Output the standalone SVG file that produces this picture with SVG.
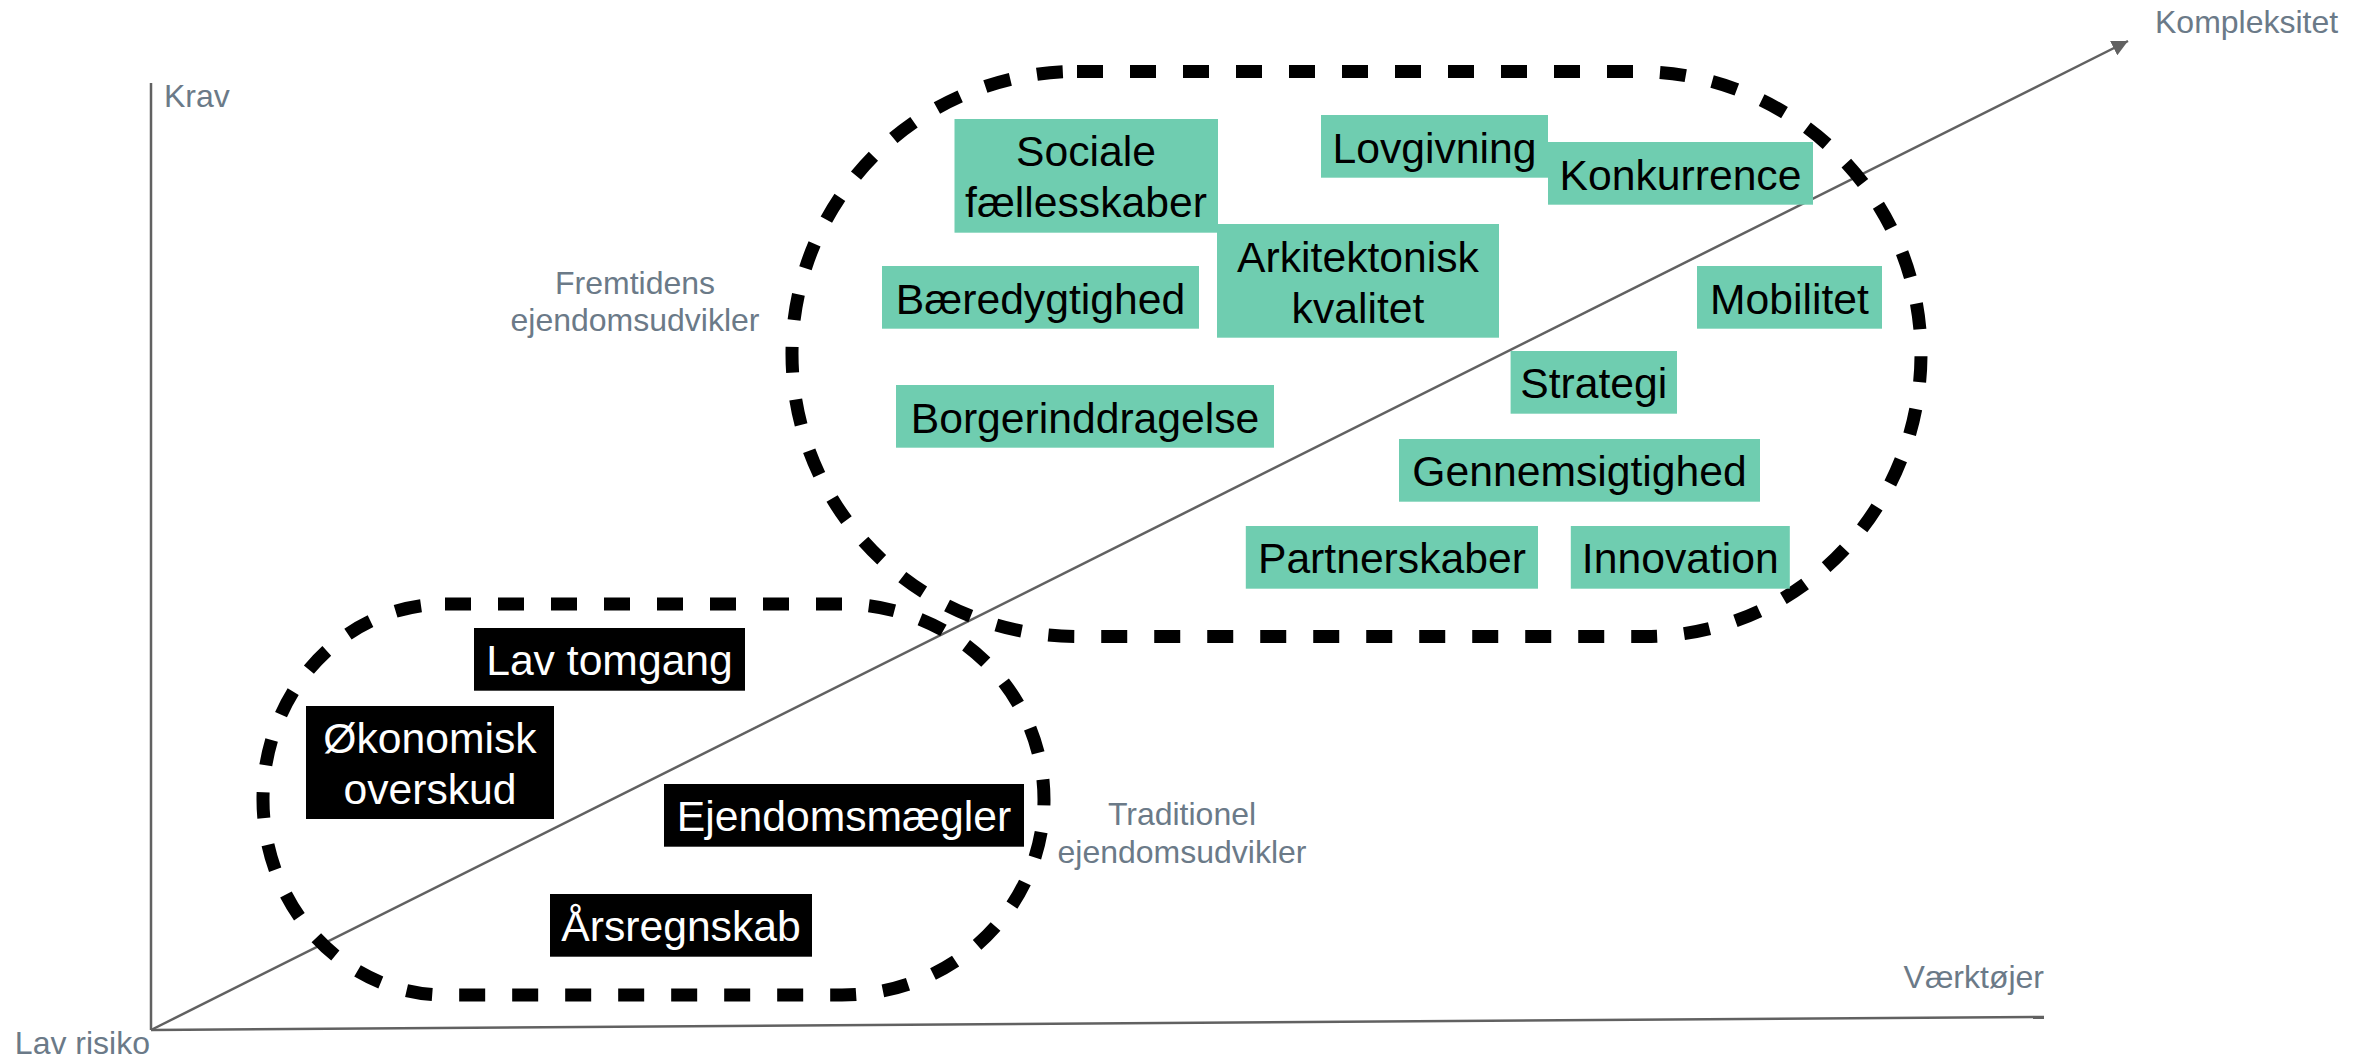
<svg xmlns="http://www.w3.org/2000/svg" width="2367" height="1061" viewBox="0 0 2367 1061">
<defs>
<style>
.ax{stroke:#616161;stroke-width:2.5;fill:none}
.lbl{font-family:"Liberation Sans",Arial,sans-serif;font-size:32px;fill:#6b7a88}
.g rect{fill:#6fcdb0}
.g text{font-family:"Liberation Sans",Arial,sans-serif;font-size:42.67px;fill:#000;text-anchor:middle}
.b rect{fill:#000}
.b text{font-family:"Liberation Sans",Arial,sans-serif;font-size:42.67px;fill:#fff;text-anchor:middle}
.dash{fill:none;stroke:#000;stroke-width:13;stroke-dasharray:26 27}
</style>
<marker id="arr" markerUnits="userSpaceOnUse" viewBox="0 0 16 16" refX="16" refY="8" markerWidth="16" markerHeight="16" orient="auto">
<path d="M0,0 L16,8 L0,16 Z" fill="#616161"/>
</marker>
</defs>
<rect width="2367" height="1061" fill="#fff"/>
<g id="connectors">
<line class="ax" x1="151" y1="83" x2="151" y2="1030"/>
<line class="ax" x1="151" y1="1030" x2="2044" y2="1017"/>
<line class="ax" x1="151" y1="1030" x2="2128" y2="41" marker-end="url(#arr)"/>
</g>
<g id="labels">
<text class="lbl" x="164" y="107">Krav</text>
<text class="lbl" x="2155" y="33">Kompleksitet</text>
<text class="lbl" x="2044" y="988" text-anchor="end">Værktøjer</text>
<text class="lbl" x="150" y="1054" text-anchor="end">Lav risiko</text>
<text class="lbl" x="635" y="294" text-anchor="middle">Fremtidens</text>
<text class="lbl" x="635" y="331" text-anchor="middle">ejendomsudvikler</text>
<text class="lbl" x="1182" y="825" text-anchor="middle">Traditionel</text>
<text class="lbl" x="1182" y="863" text-anchor="middle">ejendomsudvikler</text>
</g>
<g id="fremtidens-group">
<path class="dash" d="M1077,71.5 L1637,71.5 A284,282.5 0 0 1 1921,354 A276,282.5 0 0 1 1645,636.5 L1077,636.5 A285,282.5 0 0 1 792,354 A285,282.5 0 0 1 1077,71.5 Z"/>
</g>
<g id="traditionel-group">
<path class="dash" d="M445,604 L842,604 A202,195.5 0 0 1 1044,799.5 A202,195.5 0 0 1 842,995 L445,995 A182,195.5 0 0 1 263,799.5 A182,195.5 0 0 1 445,604 Z"/>
</g>
<g id="sociale" class="g"><rect x="954.5" y="119" width="263.5" height="113.7"/><text x="1086" y="165.7">Sociale</text><text x="1086" y="217.3">fællesskaber</text></g>
<g id="lovgivning" class="g"><rect x="1321" y="115" width="227" height="62.7"/><text x="1434.5" y="162.7">Lovgivning</text></g>
<g id="konkurrence" class="g"><rect x="1548" y="142" width="265" height="62.7"/><text x="1680.5" y="189.5">Konkurrence</text></g>
<g id="arkitektonisk" class="g"><rect x="1217" y="224" width="282" height="113.7"/><text x="1358" y="271.7">Arkitektonisk</text><text x="1358" y="322.7">kvalitet</text></g>
<g id="baeredygtighed" class="g"><rect x="882" y="266" width="317" height="62.7"/><text x="1040.5" y="313.5">Bæredygtighed</text></g>
<g id="mobilitet" class="g"><rect x="1697" y="266" width="185" height="62.7"/><text x="1789.5" y="313.5">Mobilitet</text></g>
<g id="borgerinddragelse" class="g"><rect x="896" y="385" width="378" height="62.7"/><text x="1085" y="432.5">Borgerinddragelse</text></g>
<g id="strategi" class="g"><rect x="1510.6" y="351" width="166.4" height="62.7"/><text x="1593.8" y="398">Strategi</text></g>
<g id="gennemsigtighed" class="g"><rect x="1399" y="439" width="361" height="62.7"/><text x="1579.5" y="486">Gennemsigtighed</text></g>
<g id="partnerskaber" class="g"><rect x="1245.8" y="526" width="292.2" height="62.7"/><text x="1391.9" y="573">Partnerskaber</text></g>
<g id="innovation" class="g"><rect x="1570.8" y="526" width="219" height="62.7"/><text x="1680.3" y="573">Innovation</text></g>
<g id="lav-tomgang" class="b"><rect x="474" y="628" width="271" height="62.7"/><text x="609.5" y="675">Lav tomgang</text></g>
<g id="oekonomisk" class="b"><rect x="306" y="706" width="248" height="113"/><text x="430" y="753">Økonomisk</text><text x="430" y="804">overskud</text></g>
<g id="ejendomsmaegler" class="b"><rect x="664" y="784" width="360" height="62.7"/><text x="844" y="831">Ejendomsmægler</text></g>
<g id="aarsregnskab" class="b"><rect x="550" y="894" width="262" height="62.7"/><text x="681" y="941">Årsregnskab</text></g>
</svg>
